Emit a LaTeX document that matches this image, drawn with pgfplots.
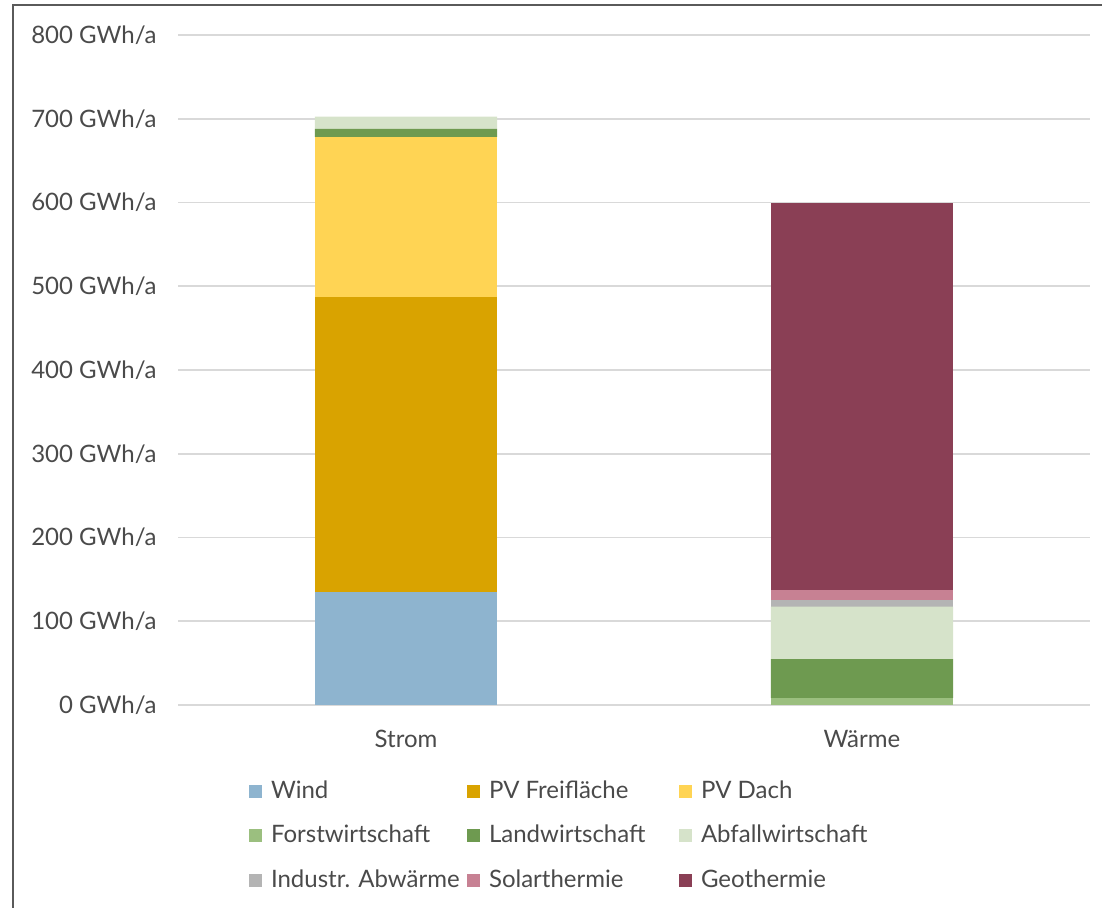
\documentclass[border=0pt]{standalone}
\usepackage{pgfplots}
\pgfplotsset{compat=1.18}
\usepackage{fontspec}
\setmainfont{Lato}
\definecolor{cWind}{HTML}{8EB4CF}
\definecolor{cPVF}{HTML}{D9A300}
\definecolor{cPVD}{HTML}{FFD454}
\definecolor{cForst}{HTML}{9BBF7F}
\definecolor{cLand}{HTML}{6E9A50}
\definecolor{cAbf}{HTML}{D6E3CA}
\definecolor{cInd}{HTML}{B4B4B4}
\definecolor{cSol}{HTML}{C78193}
\definecolor{cGeo}{HTML}{8A3F55}
\definecolor{textgray}{HTML}{4A4A4A}
\definecolor{gridgray}{HTML}{D9D9D9}
\definecolor{framegray}{HTML}{5A5A5A}
\begin{document}
\begin{tikzpicture}[font=\fontsize{12}{14.4}\selectfont]
\path[use as bounding box] (0pt,0pt) rectangle (551pt,-453.5pt);
\draw[line width=1.2pt, color=framegray] (6.4pt,-460pt) -- (6.4pt,-2.4pt) -- (560pt,-2.4pt);
\begin{axis}[
  at={(89pt,-352.5pt)}, anchor=south west,
  scale only axis, width=456pt, height=335pt,
  ybar stacked, bar width=0.4,
  xmin=-0.5, xmax=1.5, ymin=0, ymax=800,
  xtick={0,1}, xticklabels={Strom, Wärme},
  ytick={0,100,...,800},
  yticklabels={0 GWh/a,100 GWh/a,200 GWh/a,300 GWh/a,400 GWh/a,500 GWh/a,600 GWh/a,700 GWh/a,800 GWh/a},
  ymajorgrids, grid style={gridgray, line width=0.9pt},
  axis line style={draw=none}, tick style={draw=none},
  yticklabel style={anchor=east, inner sep=0pt, xshift=-10.5pt, text=textgray},
  xticklabel style={anchor=north, inner sep=0pt, yshift=-12.5pt, text=textgray},
  legend columns=3, legend cell align=left,
  legend style={at={(axis description cs:0.0779,-0.1093)}, anchor=north west,
    draw=none, fill=none, inner sep=0pt, outer sep=0pt, row sep=10.7pt,
    nodes={inner sep=0pt, text=textgray},
    /tikz/every odd column/.append style={column sep=4.5pt}},
  legend image code/.code={\fill[#1] (0pt,-4pt) rectangle (6.5pt,2.5pt);},
  every axis plot/.append style={draw=none},
]
\addplot[fill=cWind] coordinates {(0,135) (1,0)};
\addplot[fill=cPVF] coordinates {(0,352.5) (1,0)};
\addplot[fill=cPVD] coordinates {(0,191) (1,0)};
\addplot[fill=cForst] coordinates {(0,0) (1,8.4)};
\addplot[fill=cLand] coordinates {(0,9.5) (1,46.5)};
\addplot[fill=cAbf] coordinates {(0,14.5) (1,62.5)};
\addplot[fill=cInd] coordinates {(0,0) (1,8)};
\addplot[fill=cSol] coordinates {(0,0) (1,12)};
\addplot[fill=cGeo] coordinates {(0,0) (1,462.6)};
\legend{\makebox[98pt][l]{\strut Wind},\makebox[95pt][l]{\strut PV Freifläche},\strut PV Dach,
  \makebox[98pt][l]{\strut Forstwirtschaft},\makebox[95pt][l]{\strut Landwirtschaft},\strut Abfallwirtschaft,
  \makebox[98pt][l]{\strut Industr. Abwärme},\makebox[95pt][l]{\strut Solarthermie},\strut Geothermie}
\end{axis}
\end{tikzpicture}
\end{document}
